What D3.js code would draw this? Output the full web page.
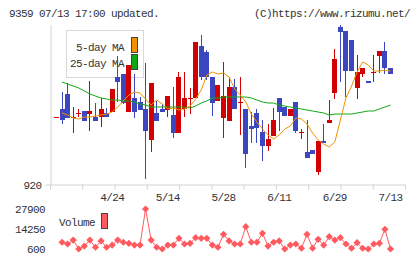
<!DOCTYPE html>
<html>
<head>
<meta charset="utf-8">
<script src="https://cdn.jsdelivr.net/npm/d3@7"></script>
<style>
  body{margin:0;background:#fff;}
  text{font-family:"Liberation Mono",monospace;font-size:11px;letter-spacing:-0.6px;fill:#333;}
</style>
</head>
<body>
<div id="container"></div>
<script>
// daily candles, oldest first (61 days, last = 07/13)
var open  = [987,995,1010,987,991,993,990,987,987,991,992,1027,1030,992,1006,1002,995,964,991,995,994,989,971,995,1006,1006,1058,1052,1027,1003,986,983,1017,1002,995,978,991,972,958,968,1006,997,988,1002,972,952,954,932,963,981,1011,1077,1073,1064,1016,1030,1023,1032,1048,1053,1036];
var high  = [987,1012,1021,997,995,993,1023,1001,1006,996,1015,1048,1030,1039,1030,1007,1041,1021,1003,1000,1008,1017,1032,1032,1016,1062,1069,1054,1027,1019,1042,1027,1025,1027,995,992,995,984,980,996,1006,997,995,1002,975,984,954,963,980,1004,1055,1079,1073,1064,1049,1036,1023,1049,1053,1062,1036];
var low   = [987,980,986,971,987,983,973,983,977,987,992,1002,1000,992,986,994,925,952,983,992,987,966,971,987,990,1006,1024,1024,988,1003,966,983,995,969,936,961,961,943,953,968,973,988,988,971,965,946,950,929,961,981,1005,1022,1007,1033,1005,1027,1021,1022,1031,1030,1030];
var close = [987,984,986,987,991,983,993,983,995,987,1015,1022,1001,1039,992,994,973,1021,983,992,1008,971,1027,1006,1006,1062,1027,1027,1001,1019,1008,1017,995,1002,950,975,976,958,965,984,992,988,995,973,972,946,950,963,961,984,1045,1072,1033,1033,1032,1036,1021,1032,1053,1036,1030];

var ma5  = [null,991,989,986,985,987,987,988,989,990,992,997,1003,1009,1012,1011,1005,999,1004,1000,995,996,994,995,998,1005,1014,1029,1032,1030,1031,1027,1015,1009,1002,990,982,975,969,965,969,975,978,986,985,980,971,964,960,957,962,984,1006,1018,1032,1042,1039,1033,1033,1034,1033];
var ma25 = [null,1022,1020,1018,1016,1013,1010,1008,1006,1005,1004,1004,1003,1003,1002,1000,999,997,997,997,997,997,997,997,996,998,1001,1003,1006,1006,1007,1007,1007,1007,1007,1006,1004,1002,1001,1001,999,998,997,996,995,994,993,992,991,989,990,990,990,990,991,992,993,993,995,997,999];

var volume = [null,5200,4000,6700,600,2600,6700,1800,6100,1800,3300,6700,5200,4500,3300,3300,27900,6700,1800,600,3300,3300,7900,4000,4500,8300,7900,7900,3300,1800,10600,6100,4000,4000,15800,5200,5200,11300,2600,5200,6100,600,3300,4000,1100,10600,1100,7200,3300,9000,6700,8300,4000,1100,4900,1100,600,4000,4500,14000,600];

var dateIdx = [10,20,30,40,50,60];
var dateLabels = ["4/24","5/14","5/28","6/11","6/29","7/13"];
var priceTicks = [920];
var volTicks = [600,14250,27900];

var width = 420, height = 259;
var svg = d3.select("#container").append("svg")
    .attr("width", width)
    .attr("height", height);

var xScale = d3.scaleLinear().domain([0, open.length-1]).range([56.5, 390.5]);
var yScale = d3.scaleLinear().domain([920, 1080]).range([184, 24]);
var vScale = d3.scaleLinear().domain([600, 27900]).range([249, 209]);
var gridScale = d3.scaleLinear().domain([0, 11]).range([50, 405]);

// header
svg.append("text").attr("x", 9).attr("y", 17).text("9359 07/13 17:00 updated.");
svg.append("text").attr("x", 410).attr("y", 17).attr("text-anchor","end").text("(C)https://www.rizumu.net/");

// axes
var xAxis = d3.axisBottom(gridScale).ticks(11).tickFormat("").tickSize(5).tickSizeOuter(0);
svg.append("g")
    .attr("transform","translate(0,184.5)")
    .style("color","#d4d4d4")
    .call(xAxis);

var yAxis = d3.axisLeft(yScale).tickValues(priceTicks).tickSize(5).tickPadding(4).tickSizeOuter(0);
svg.append("g")
    .attr("transform","translate(50.5,0.5)")
    .style("color","#d4d4d4")
    .call(yAxis);

svg.selectAll(".date-label")
  .data(dateIdx)
  .enter().append("text")
    .attr("class","date-label")
    .attr("x", d => xScale(d))
    .attr("y", 201)
    .attr("text-anchor","middle")
    .text((d,i) => dateLabels[i]);

// legend
var leg = svg.append("g");
leg.append("rect").attr("x",66.5).attr("y",30.5).attr("width",77).attr("height",47)
    .attr("fill","none").attr("stroke","#d8d8d8");
leg.append("text").attr("x",124).attr("y",51).attr("text-anchor","end").text("5-day MA");
leg.append("text").attr("x",124).attr("y",67).attr("text-anchor","end").text("25-day MA");
leg.append("rect").attr("x",131.5).attr("y",37.5).attr("width",6).attr("height",15)
    .attr("fill","#f39200").attr("stroke","#444");
leg.append("rect").attr("x",131.5).attr("y",54.5).attr("width",6).attr("height",15)
    .attr("fill","#12a812").attr("stroke","#444");

// candles
var idx = d3.range(open.length);
var candle = svg.append("g").selectAll("g")
  .data(idx)
  .enter().append("g");

candle.append("line")
    .attr("x1", i => Math.floor(xScale(i)) + 0.5)
    .attr("x2", i => Math.floor(xScale(i)) + 0.5)
    .attr("y1", i => yScale(high[i]))
    .attr("y2", i => yScale(low[i]))
    .attr("stroke", i => close[i] >= open[i] ? "#d20000" : "#3c46be")
    .attr("stroke-width", 1);

candle.append("rect")
    .attr("x", i => Math.floor(xScale(i)) - 2)
    .attr("width", 5)
    .attr("y", i => Math.min(yScale(open[i]), yScale(close[i])))
    .attr("height", i => Math.max(1, Math.abs(yScale(open[i]) - yScale(close[i]))))
    .attr("fill", i => close[i] >= open[i] ? "#d20000" : "#3c46be");

// moving averages
var line5 = d3.line()
    .defined(i => ma5[i] != null)
    .x(i => xScale(i))
    .y(i => yScale(ma5[i]));
var line25 = d3.line()
    .defined(i => ma25[i] != null)
    .x(i => xScale(i))
    .y(i => yScale(ma25[i]));

svg.append("path").datum(idx).attr("d", line25)
    .attr("fill","none").attr("stroke","#12a812").attr("stroke-width",1);
svg.append("path").datum(idx).attr("d", line5)
    .attr("fill","none").attr("stroke","#f39200").attr("stroke-width",1);

// volume panel
svg.selectAll(".vol-label")
  .data(volTicks)
  .enter().append("text")
    .attr("class","vol-label")
    .attr("x", 45)
    .attr("y", d => vScale(d) + 3.5)
    .attr("text-anchor","end")
    .text(d => d);

svg.append("text").attr("x",59).attr("y",226).text("Volume");
svg.append("rect").attr("x",101.5).attr("y",213.5).attr("width",6).attr("height",15)
    .attr("fill","#ff5a5f").attr("stroke","#444");

var vline = d3.line()
    .defined(i => volume[i] != null)
    .x(i => xScale(i))
    .y(i => vScale(volume[i]));

svg.append("path").datum(idx).attr("d", vline)
    .attr("fill","none").attr("stroke","#ff5a5f").attr("stroke-width",1);

svg.append("g").selectAll("path")
  .data(idx.filter(i => volume[i] != null))
  .enter().append("path")
    .attr("d", d3.symbol(d3.symbolSquare, 26))
    .attr("transform", i => "translate(" + xScale(i) + "," + vScale(volume[i]) + ") rotate(45)")
    .attr("fill","#ff5a5f");
</script>
</body>
</html>
